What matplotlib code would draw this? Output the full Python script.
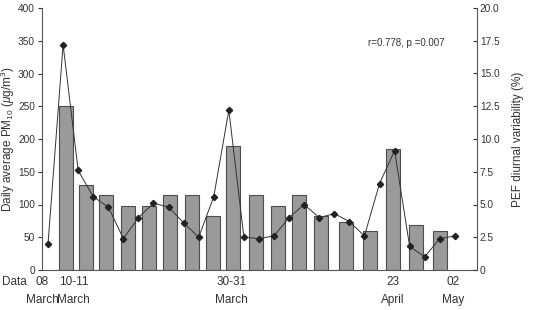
import matplotlib
matplotlib.use("Agg")
import matplotlib.pyplot as plt

plt.rcParams['font.family'] = ['Liberation Sans', 'DejaVu Sans']
plt.rcParams['mathtext.fontset'] = 'custom'
plt.rcParams['mathtext.rm'] = 'Liberation Sans'
plt.rcParams['mathtext.it'] = 'Liberation Sans:italic'

# daily PM10 (left axis), sampled on 18 days
bar_pos = [1.19, 2.52, 3.85, 5.31, 6.67, 8.1, 9.55, 10.98, 12.3, 13.8,
           15.26, 16.65, 18.1, 19.8, 21.4, 22.9, 24.4, 26.0]
pm10 = [250, 130, 114, 98, 98, 115, 115, 82, 189, 114,
        98, 115, 83, 73, 60, 184, 68, 60]

# PEF diurnal variability (right axis), 28 measurements
pef = [2.0, 17.2, 7.6, 5.6, 4.8, 2.4, 4.0, 5.1, 4.8, 3.6,
       2.5, 5.6, 12.2, 2.5, 2.4, 2.6, 4.0, 5.0, 4.0, 4.3,
       3.7, 2.6, 6.6, 9.1, 1.8, 1.0, 2.4, 2.6]

date_pos = [-0.4, 1.7, 12.2, 22.9, 26.9]
date_labels = ["08\nMarch", "10-11\nMarch", "30-31\nMarch", "23\nApril", "02\nMay"]

txt = '#333333'
spine_c = '#555555'

fig = plt.figure(figsize=(5.35, 3.1), dpi=100)
ax = fig.add_axes([42 / 535, 40 / 310, 435 / 535, 262 / 310])
ax.bar(bar_pos, pm10, width=0.93, color='#9a9a9a', edgecolor='#4d4d4d', linewidth=0.8, zorder=2)
ax.set_ylim(0, 400)
ax.set_yticks(range(0, 401, 50))
ax.set_xlim(-0.4, 28.47)
ax.set_xticks(date_pos)
ax.set_xticklabels(date_labels, fontsize=8.5, color=txt, linespacing=1.7)
ax.tick_params(axis='x', length=0, pad=4)
ax.tick_params(axis='y', labelsize=7.3, colors=txt, length=3, width=0.8, direction='out', pad=2)
ax.set_ylabel("Daily average PM$_{10}$ ($\\mu$g/m$^3$)", fontsize=8.5, color=txt)
ax.yaxis.set_label_coords(-0.058, 0.5)
for s in ['top', 'right']:
    ax.spines[s].set_visible(False)
for s in ['left', 'bottom']:
    ax.spines[s].set_color(spine_c)
    ax.spines[s].set_linewidth(0.8)

ax2 = ax.twinx()
ax2.plot(range(len(pef)), pef, color='#333333', linewidth=0.7, marker='D',
         markersize=3.2, markerfacecolor='#222222', markeredgecolor='#222222')
ax2.set_ylim(0, 20)
ax2.set_yticks([0, 2.5, 5, 7.5, 10, 12.5, 15, 17.5, 20])
ax2.set_yticklabels(["0", "2.5", "5.0", "7.5", "10.0", "12.5", "15.0", "17.5", "20.0"])
ax2.tick_params(axis='y', labelsize=7.3, colors=txt, length=3, width=0.8, direction='in', pad=2)
ax2.set_ylabel("PEF diurnal variability (%)", fontsize=8.5, color=txt)
ax2.yaxis.set_label_coords(1.08, 0.5)
for s in ['top', 'left', 'bottom']:
    ax2.spines[s].set_visible(False)
ax2.spines['right'].set_color(spine_c)
ax2.spines['right'].set_linewidth(0.8)

ax2.text(0.925, 0.865, "r=0.778, p =0.007", transform=ax.transAxes, ha='right',
         va='center', fontsize=7, color=txt)

fig.text(2 / 535, 1 - 282 / 310, "Data", fontsize=8.5, color=txt, va='center', ha='left')

fig.savefig("out.png", dpi=100)
